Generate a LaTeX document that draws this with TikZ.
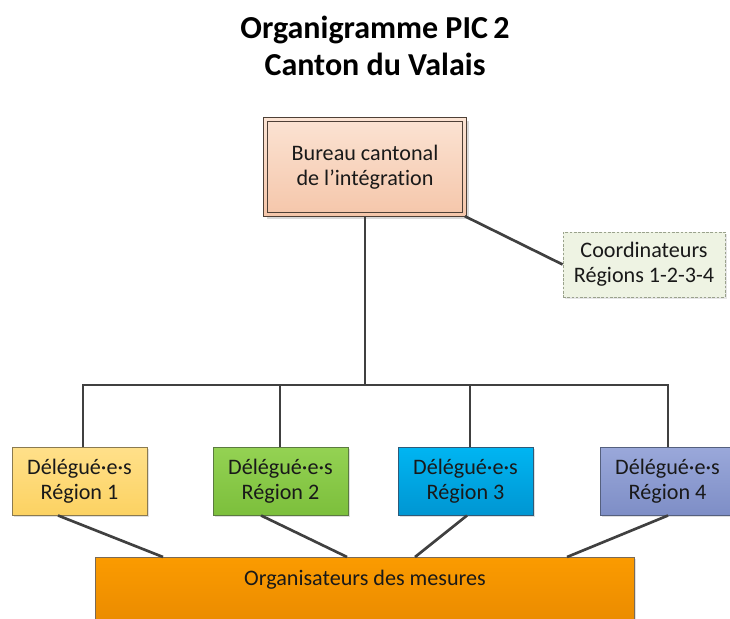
\documentclass[tikz,border=0pt]{standalone}
\usepackage{fontspec}
\setmainfont{Carlito}[Ligatures={NoCommon}]
\usetikzlibrary{shadows,calc}
\definecolor{linec}{HTML}{404040}
\definecolor{peachT}{HTML}{FBE3D3}
\definecolor{peachB}{HTML}{F5C6AA}
\definecolor{peachL}{HTML}{4E4036}
\definecolor{coordF}{HTML}{EEF3E3}
\definecolor{coordL}{HTML}{9AA28C}
\definecolor{yelT}{HTML}{FFE08A}
\definecolor{yelB}{HTML}{FCD262}
\definecolor{yelL}{HTML}{8A7A50}
\definecolor{grnT}{HTML}{94D253}
\definecolor{grnB}{HTML}{7CBF3C}
\definecolor{grnL}{HTML}{5B7A40}
\definecolor{bluT}{HTML}{00B5F2}
\definecolor{bluB}{HTML}{0096D2}
\definecolor{bluL}{HTML}{2E5A78}
\definecolor{purT}{HTML}{9AA8DA}
\definecolor{purB}{HTML}{7E8EC6}
\definecolor{purL}{HTML}{55607E}
\definecolor{orT}{HTML}{FB9B00}
\definecolor{orB}{HTML}{E68700}
\definecolor{orL}{HTML}{7A6A55}
\tikzset{
  conn/.style={draw=linec, line width=2pt},
  boxtext/.style={font=\fontsize{16.6}{19}\selectfont, text=black!90, align=center},
  deleg/.style={boxtext, minimum width=101.25pt, minimum height=51pt, line width=0.7pt,
    drop shadow={shadow xshift=1.5pt, shadow yshift=-1.5pt, opacity=0.25}},
}
\begin{document}
\begin{tikzpicture}[x=0.75pt,y=-0.75pt]
\useasboundingbox (0,0) rectangle (730,618);
% title
\node[font=\fontsize{24}{27.75}\selectfont\bfseries, align=center] (title) at (375,46)
  {Organigramme PIC\,2\\Canton du Valais};
% bureau
\node[boxtext, minimum width=151.5pt, minimum height=73.5pt, top color=peachT, bottom color=peachB,
  drop shadow={shadow xshift=2pt, shadow yshift=-2pt, opacity=0.3}] (bureau) at (365,167)
  {Bureau cantonal\\de l’intégration};
\draw[peachL, line width=0.9pt] (bureau.north west) rectangle (bureau.south east);
\draw[peachL, line width=0.9pt] ([shift={(3pt,-3pt)}]bureau.north west) rectangle ([shift={(-3pt,3pt)}]bureau.south east);
% coordinateurs
\node[boxtext, minimum width=121.5pt, minimum height=48.75pt, fill=coordF, draw=coordL, line width=0.6pt,
  dash pattern=on 2pt off 1.2pt,
  drop shadow={shadow xshift=1.5pt, shadow yshift=-1.5pt, opacity=0.2}] (coord) at (644,264.5)
  {Coordinateurs\\Régions 1-2-3-4};
% delegates
\node[deleg, top color=yelT, bottom color=yelB, draw=yelL] (d1) at (79.5,481) {Délégué·e·s\\Région 1};
\node[deleg, top color=grnT, bottom color=grnB, draw=grnL] (d2) at (280.5,481) {Délégué·e·s\\Région 2};
\node[deleg, top color=bluT, bottom color=bluB, draw=bluL] (d3) at (465.5,481) {Délégué·e·s\\Région 3};
\node[deleg, top color=purT, bottom color=purB, draw=purL] (d4) at (667.5,481) {Délégué·e·s\\Région 4};
% organisateurs
\node[minimum width=404.25pt, minimum height=62pt, top color=orT, bottom color=orB, draw=orL, line width=0.7pt,
  anchor=north, drop shadow={shadow xshift=1.5pt, shadow yshift=-1.5pt, opacity=0.25}] (org) at (364.5,557) {};
\node[boxtext] (orgtext) at (365,580) {Organisateurs des mesures};
% bus coordinates
\coordinate (v1) at (83,385);
\coordinate (v2) at (280,385);
\coordinate (v3) at (470,385);
\coordinate (v4) at (668,385);
% connectors
\draw[conn] (bureau.south) -- (bureau.south |- v1);
\draw[conn] (d1.north -| v1) -- (v1) -- (v4) -- (d4.north -| v4);
\draw[conn] (v2) -- (d2.north -| v2);
\draw[conn] (v3) -- (d3.north -| v3);
\draw[conn] ([xshift=-1pt]bureau.south east) -- (coord.west);
\draw[conn] ([xshift=-16.1pt]d1.south) -- ([xshift=-151.1pt]org.north);
\draw[conn] ([xshift=-14.6pt]d2.south) -- ([xshift=-13.1pt]org.north);
\draw[conn] ([xshift=1.1pt]d3.south) -- ([xshift=37.9pt]org.north);
\draw[conn] ([xshift=0.4pt]d4.south) -- ([xshift=151.9pt]org.north);
\end{tikzpicture}
\end{document}
